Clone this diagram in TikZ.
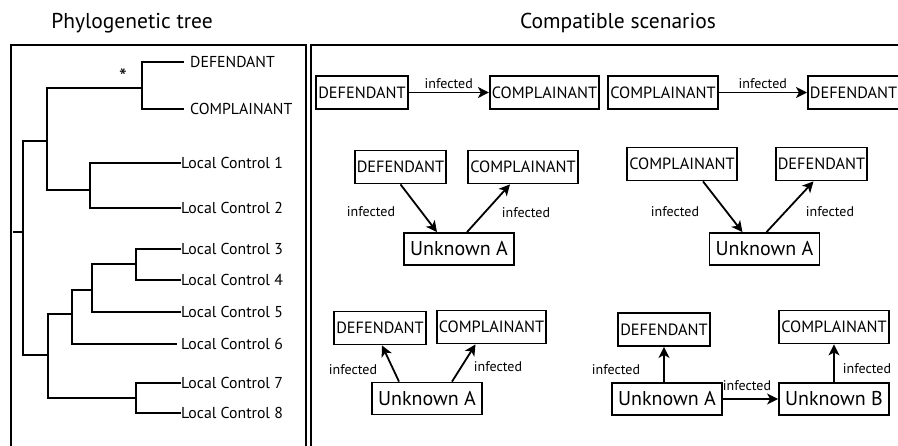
\documentclass[tikz,border=0pt]{standalone}
\usepackage{fontspec}
\setmainfont{PT Sans}
\usepackage{tikz}
\usetikzlibrary{arrows.meta}

\tikzset{
  person/.style = {draw, line width=1.8pt, inner xsep=2pt, inner ysep=0pt,
    minimum height=33pt, font=\fontsize{16.3}{18}\selectfont},
  unknown/.style = {draw, line width=1.8pt, inner xsep=2pt, inner ysep=0pt,
    minimum height=32pt, minimum width=110pt, font=\fontsize{20}{22}\selectfont},
  inf/.style = {inner sep=1pt, font=\fontsize{14}{15}\selectfont},
  infarrow/.style = {line width=1.8pt, -{Stealth[length=11pt,width=11pt,inset=3pt]}},
  leaf/.style = {anchor=west, inner sep=0pt, font=\fontsize{15.8}{17}\selectfont},
  branch/.style = {line width=1.5pt},
  frame/.style = {line width=1.8pt},
  heading/.style = {font=\fontsize{21.5}{23}\selectfont}
}

\begin{document}
\begin{tikzpicture}[x=1pt, y=-1pt]
    \useasboundingbox (0, 0) rectangle (898, 445);
    \clip (0, 0) rectangle (898, 445);

    % titles and frames
    \node[heading] (ttree) at (132, 23) {Phylogenetic tree};
    \node[heading] (tscen) at (618, 23) {Compatible scenarios};
    \draw[frame] (11, 450) -- (11, 45) -- (306, 45) -- (306, 450);
    \draw[frame] (311, 450) -- (311, 45) -- (905, 45);

    % tree leaves
    \node[leaf, inner xsep=6pt] (lD) at (184, 62) {DEFENDANT};
    \node[leaf, inner xsep=6pt] (lC) at (184, 109) {COMPLAINANT};
    \node[leaf] (lc1) at (181, 163) {Local Control 1};
    \node[leaf] (lc2) at (181, 208) {Local Control 2};
    \node[leaf] (lc3) at (181, 249) {Local Control 3};
    \node[leaf] (lc4) at (181, 280) {Local Control 4};
    \node[leaf] (lc5) at (181, 312) {Local Control 5};
    \node[leaf, inner xsep=4pt] (lc6) at (177, 344) {Local Control 6};
    \node[leaf] (lc7) at (181, 383) {Local Control 7};
    \node[leaf] (lc8) at (181, 413) {Local Control 8};
    \node[font=\fontsize{22}{22}\selectfont] (star) at (123, 77) {*};

    % tree branches
    \draw[branch] (13, 232) -- (23, 232);
    \draw[branch] (47, 141) -- (23, 141) -- (23, 355) -- (48, 355);
    \draw[branch] (142, 88) -- (47, 88) -- (47, 190) -- (90, 190);
    \draw[branch] (lD.west) -- (142, 62) -- (142, 109) -- (lC.west);
    \draw[branch] (lc1.west) -- (90, 163) -- (90, 208) -- (lc2.west);
    \draw[branch] (72, 314) -- (48, 314) -- (48, 398) -- (136, 398);
    \draw[branch] (92, 290) -- (72, 290) -- (72, 344) -- (lc6.west);
    \draw[branch] (136, 264) -- (92, 264) -- (92, 312) -- (lc5.west);
    \draw[branch] (lc3.west) -- (136, 249) -- (136, 280) -- (lc4.west);
    \draw[branch] (lc7.west) -- (136, 383) -- (136, 413) -- (lc8.west);

    % scenario 1 and 2
    \node[person] (d1) at (362, 92.5) {DEFENDANT};
    \node[person] (c1) at (544.5, 92.5) {COMPLAINANT};
    \draw[infarrow] (d1.east) -- node[inf, above=2pt] (i1) {infected} (c1.west);

    \node[person] (c2) at (663, 92.5) {COMPLAINANT};
    \node[person, anchor=west] (d2) at (807, 92.5) {DEFENDANT};
    \draw[infarrow] (c2.east) -- node[inf, above=2pt] (i2) {infected} (d2.west);

    % scenario 3
    \node[person] (d3) at (400.5, 167) {DEFENDANT};
    \node[person] (c3) at (523, 167) {COMPLAINANT};
    \node[unknown] (u3) at (459, 249) {Unknown A};
    \draw[infarrow] (d3.south) -- ([xshift=-22pt]u3.north);
    \draw[infarrow] ([xshift=8pt]u3.north) -- ([xshift=-13pt]c3.south);
    \node[inf] (i3a) at (371, 212) {infected};
    \node[inf] (i3b) at (526, 213) {infected};

    % scenario 4
    \node[person] (c4) at (682, 164) {COMPLAINANT};
    \node[person] (d4) at (821.5, 164) {DEFENDANT};
    \node[unknown] (u4) at (764.5, 249) {Unknown A};
    \draw[infarrow] ([xshift=21pt]c4.south) -- ([xshift=-22pt]u4.north);
    \draw[infarrow] ([xshift=2pt]u4.north) -- ([xshift=-8pt]d4.south);
    \node[inf] (i4a) at (675, 212) {infected};
    \node[inf] (i4b) at (830, 212) {infected};

    % scenario 5
    \node[person] (d5) at (380, 328) {DEFENDANT};
    \node[person] (c5) at (491.5, 327) {COMPLAINANT};
    \node[unknown] (u5) at (427, 398.5) {Unknown A};
    \draw[infarrow] ([xshift=-28pt]u5.north) -- ([xshift=2pt]d5.south);
    \draw[infarrow] ([xshift=25pt]u5.north) -- ([xshift=-16pt]c5.south);
    \node[inf] (i5a) at (353, 370) {infected};
    \node[inf] (i5b) at (498, 367) {infected};

    % scenario 6
    \node[person] (d6) at (664, 329.5) {DEFENDANT};
    \node[person] (c6) at (834, 327) {COMPLAINANT};
    \node[unknown] (ua6) at (667, 399) {Unknown A};
    \node[unknown] (ub6) at (834, 399) {Unknown B};
    \draw[infarrow] (d6.south |- ua6.north) -- (d6.south);
    \draw[infarrow] (c6.south |- ub6.north) -- (c6.south);
    \draw[infarrow] (ua6.east) -- (ub6.west);
    \node[inf] (i6a) at (616, 370) {infected};
    \node[inf] (i6b) at (747, 386) {infected};
    \node[inf] (i6c) at (867, 369) {infected};
\end{tikzpicture}
\end{document}
